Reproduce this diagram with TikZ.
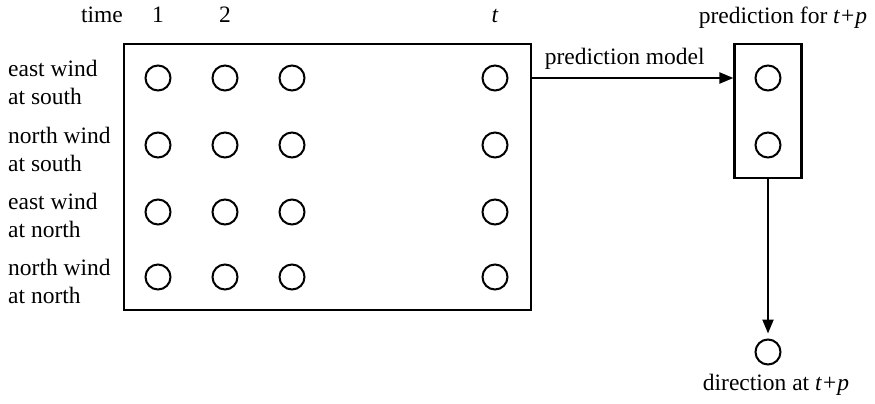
\documentclass[tikz,border=0pt]{standalone}
\usepackage{fontspec}
\setmainfont{Liberation Serif}
\usetikzlibrary{arrows.meta}
\begin{document}
\begin{tikzpicture}[x=1pt,y=-1pt,
  every node/.style={font=\fontsize{23.5}{28}\selectfont, inner sep=0pt},
  frame/.style={draw, line width=2.2pt, inner sep=0pt},
  unit/.style={draw, circle, line width=2pt, minimum size=25pt, inner sep=0pt},
  lbl/.style={align=left, anchor=west},
  arr/.style={line width=2.2pt, -{Triangle[length=14pt,width=11pt]}}]
\useasboundingbox (0,0) rectangle (875,404);

% input grid of variables over time
\node[frame, minimum width=407pt, minimum height=266pt] (grid) at (327.5,177) {};
\foreach \c/\x in {1/158,2/225,3/292,4/495}
  \foreach \r/\y in {1/78,2/145,3/212,4/277}
    \node[unit] (c\r\c) at (\x,\y) {};

% time axis
\node[anchor=base east] (time) at (123,23) {time};
\node[anchor=base] (t1) at (158,23) {1};
\node[anchor=base] (t2) at (225,23) {2};
\node[anchor=base] (tt) at (495,23) {\textit{t}};

% variable names
\node[lbl] (v1) at (8,82) {east wind\\at south};
\node[lbl] (v2) at (8,149) {north wind\\at south};
\node[lbl] (v3) at (8,215) {east wind\\at north};
\node[lbl] (v4) at (8,281) {north wind\\at north};

% prediction block
\node[frame, minimum width=67pt, minimum height=134pt] (out) at (768,111) {};
\node[unit] (o1) at (768,78) {};
\node[unit] (o2) at (768,145) {};
\node[anchor=base] (outlbl) at (783,24) {prediction for \textit{t}\kern1pt+\kern1pt\textit{p}};

\draw[arr] (grid.east |- o1) -- node[above=7pt, pos=0.46] (model) {prediction model} (out.west |- o1);

% final direction
\node[unit] (dir) at (768,352) {};
\draw[arr, shorten >=5pt] (out.south) -- (dir.north);
\node[anchor=base] (dirlbl) at (776,390) {direction at \textit{t}\kern1pt+\kern1pt\textit{p}};
\end{tikzpicture}
\end{document}
